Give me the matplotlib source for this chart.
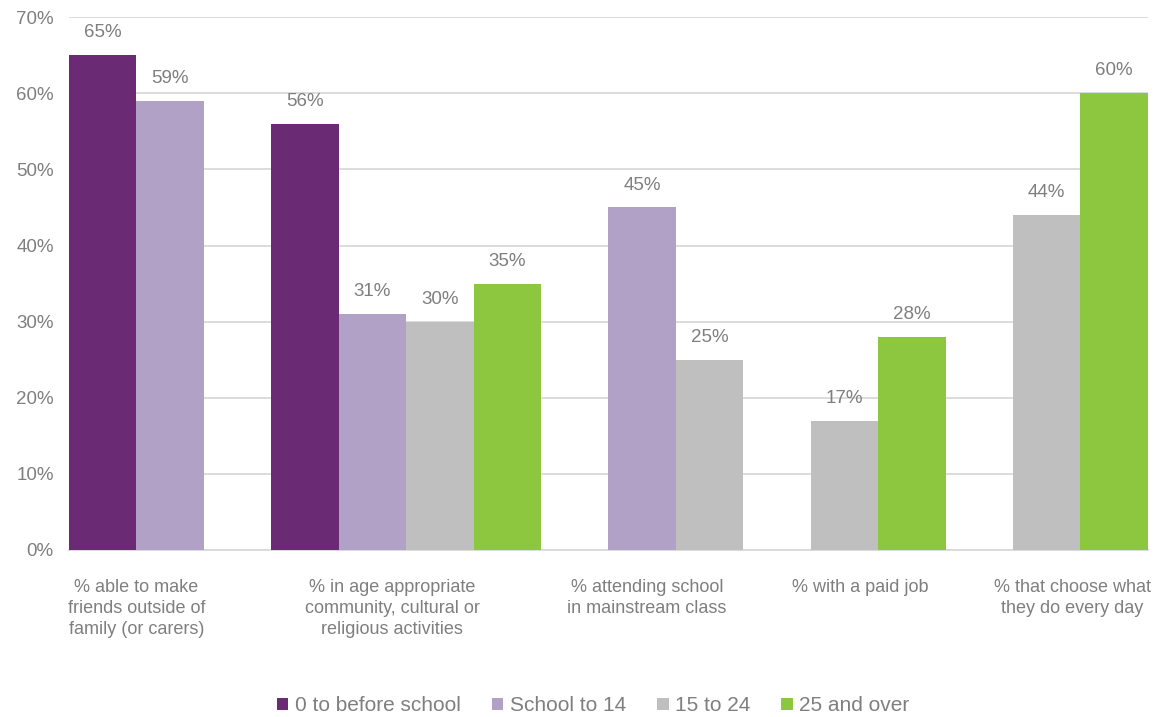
import matplotlib
matplotlib.use("Agg")
import matplotlib.pyplot as plt
from matplotlib.patches import Patch

plt.rcParams['font.family'] = ['Liberation Sans', 'DejaVu Sans']

categories = [
    "% able to make\nfriends outside of\nfamily (or carers)",
    "% in age appropriate\ncommunity, cultural or\nreligious activities",
    "% attending school\nin mainstream class",
    "% with a paid job",
    "% that choose what\nthey do every day",
]
series_names = ["0 to before school", "School to 14", "15 to 24", "25 and over"]
# None = not applicable for that age group
before_school = [65, 56, None, None, None]
school_to_14 = [59, 31, 45, None, None]
age_15_24 = [None, 30, 25, 17, 44]
age_25_over = [None, 35, None, 28, 60]

colors = ["#6B2A74", "#B2A1C7", "#BFBFBF", "#8DC63F"]
text_color = "#7F7F7F"
grid_color = "#D9D9D9"

# horizontal nudge of each category label, in bar widths
label_shift = [0.0, -0.21, -0.43, -0.27, -0.12]

series = [before_school, school_to_14, age_15_24, age_25_over]

fig = plt.figure(figsize=(11.7, 7.17), dpi=100)
ax = fig.add_axes([0.059, 0.233, 0.922, 0.743])

# Bars are packed within each category; one empty slot separates categories
pos = 0.0
centers = []
for ci in range(len(categories)):
    present = [(si, s[ci]) for si, s in enumerate(series) if s[ci] is not None]
    start = pos
    for si, v in present:
        ax.bar(pos + 0.5, v, width=1.0, color=colors[si], zorder=3)
        ax.annotate(f"{v}%", (pos + 0.5, v), xytext=(0, 10), textcoords="offset points",
                    ha="center", va="bottom", fontsize=13.5, color=text_color)
        pos += 1
    centers.append((start + pos) / 2 + label_shift[ci])
    pos += 1
total = pos - 1

ax.set_xlim(0, total)
ax.set_ylim(0, 70)
ax.set_yticks(range(0, 71, 10))
ax.set_yticklabels([f"{t}%" for t in range(0, 71, 10)], fontsize=13.5, color=text_color)
ax.yaxis.grid(True, color=grid_color, linewidth=1.3, zorder=0)
ax.tick_params(axis="y", length=0, pad=11)
ax.set_xticks(centers)
ax.set_xticklabels(categories, fontsize=13, color=text_color, linespacing=1.3)
ax.tick_params(axis="x", length=0, pad=21)
for side in ["left", "right", "top"]:
    ax.spines[side].set_visible(False)
ax.spines["bottom"].set_color(grid_color)
ax.spines["bottom"].set_linewidth(1.3)

handles = [Patch(facecolor=c, edgecolor="none") for c in colors]
leg = fig.legend(handles, series_names, loc="lower center", bbox_to_anchor=(0.507, -0.024),
                 ncol=4, frameon=False, fontsize=15, handlelength=0.55, handleheight=0.55,
                 handletextpad=0.3, columnspacing=1.5)
for t in leg.get_texts():
    t.set_color(text_color)

fig.savefig("out.png", dpi=100)
